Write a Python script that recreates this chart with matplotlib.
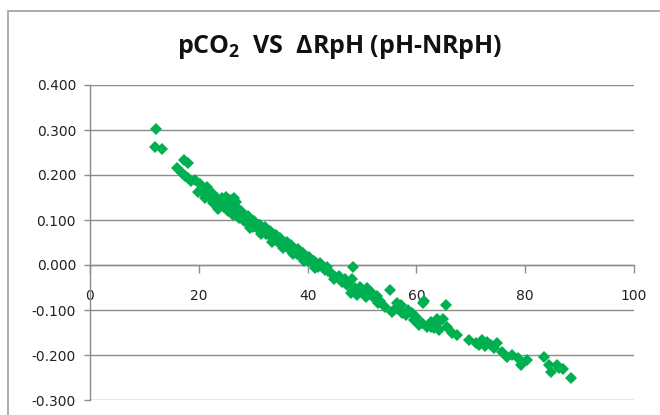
import matplotlib
matplotlib.use('Agg')
import matplotlib.pyplot as plt
from matplotlib.patches import Rectangle

# pCO2 (x) and delta RpH (y)
pco2 = [12.1, 12.0, 13.2,
        17.2, 18.1, 16.0, 16.9, 18.1, 19.3, 20.3, 19.9, 21.5, 22.4, 23.3, 24.5, 25.8, 27.0,
        17.5, 18.6, 20.8, 21.0, 22.0, 23.0, 23.8, 24.2, 25.0, 25.4, 26.0, 26.3, 26.8, 27.3,
        27.6, 28.0, 28.4, 28.8, 29.2, 29.6, 30.0, 30.4, 30.8, 31.2, 31.6, 32.0, 32.4, 32.8,
        33.2, 33.6, 34.0, 34.4, 34.8, 35.2, 35.6, 36.0, 36.4, 36.8, 37.2, 37.6, 38.0, 38.5,
        39.0, 39.5, 40.0, 40.5, 41.0, 41.5, 42.0, 42.6, 43.2, 43.8, 44.4, 45.0,
        26.5, 27.8, 29.0, 30.2, 31.0, 32.2, 33.0, 34.2, 35.0, 36.2, 37.0, 38.2, 39.2, 40.2,
        41.2, 42.3, 43.5, 29.4, 31.4, 33.4, 35.4, 37.4, 39.4, 41.4, 24.6, 25.2, 23.5, 22.6,
        21.2, 25.5, 26.4,
        44.8, 46.3, 48.2, 48.4, 48.8, 49.7, 50.3, 51.6, 52.2, 47.9, 49.1, 53.4, 55.2, 54.3,
        55.5, 57.1, 57.4, 59.2, 59.5, 61.3, 60.5, 62.6, 63.8,
        45.8, 46.8, 47.2, 50.8, 51.0, 52.8, 53.0, 56.0, 56.5, 58.0, 58.5, 60.0,
        61.4, 65.4, 62.6, 63.8, 64.8, 65.7, 62.0, 67.5, 69.7, 70.9, 72.1, 72.7, 73.7, 74.9,
        75.8, 76.7, 78.6, 79.2, 80.4,
        61.0, 63.2, 64.2, 66.5, 71.5, 73.0, 74.2, 77.5,
        83.5, 84.4, 84.7, 85.9, 86.9, 88.4, 86.2]
delta_rph = [0.303, 0.262, 0.257,
             0.233, 0.226, 0.215, 0.204, 0.193, 0.189, 0.181, 0.163, 0.174, 0.159, 0.148, 0.141, 0.133, 0.126,
             0.198, 0.186, 0.170, 0.158, 0.150, 0.140, 0.132, 0.150, 0.152, 0.120, 0.145, 0.112, 0.140, 0.104,
             0.118, 0.112, 0.098, 0.106, 0.092, 0.100, 0.084, 0.094, 0.080, 0.088, 0.074, 0.080, 0.068, 0.074,
             0.062, 0.068, 0.056, 0.062, 0.050, 0.055, 0.044, 0.048, 0.038, 0.042, 0.032, 0.034, 0.024, 0.028,
             0.016, 0.020, 0.008, 0.012, 0.002, 0.004, -0.004, -0.002, -0.010, -0.014, -0.020, -0.026,
             0.128, 0.120, 0.108, 0.098, 0.090, 0.085, 0.076, 0.066, 0.060, 0.052, 0.044, 0.036, 0.026, 0.018,
             0.010, 0.004, -0.004, 0.082, 0.068, 0.052, 0.038, 0.024, 0.008, -0.006, 0.128, 0.138, 0.125, 0.138,
             0.150, 0.145, 0.150,
             -0.030, -0.037, -0.030, -0.004, -0.052, -0.048, -0.063, -0.059, -0.074, -0.063, -0.067, -0.081, -0.056, -0.093,
             -0.104, -0.089, -0.107, -0.107, -0.122, -0.085, -0.133, -0.137, -0.119,
             -0.025, -0.030, -0.045, -0.070, -0.052, -0.068, -0.085, -0.098, -0.085, -0.110, -0.100, -0.115,
             -0.081, -0.089, -0.126, -0.130, -0.119, -0.137, -0.137, -0.156, -0.167, -0.174, -0.167, -0.181, -0.178, -0.174,
             -0.193, -0.204, -0.207, -0.222, -0.211,
             -0.128, -0.140, -0.145, -0.150, -0.178, -0.170, -0.185, -0.200,
             -0.204, -0.222, -0.237, -0.222, -0.230, -0.252, -0.228]

x_ticks = [0, 20, 40, 60, 80, 100]
y_ticks = [-0.3, -0.2, -0.1, 0.0, 0.1, 0.2, 0.3, 0.4]

plt.rcParams['font.family'] = ['DejaVu Sans']
plt.rcParams['mathtext.default'] = 'regular'

grid_col = '#8c8c8c'

fig = plt.figure(figsize=(6.6, 4.15), dpi=100)
ax = fig.add_axes([90/660, 1-400/415, 544/660, 315/415])

# chart area border (cut off right/bottom like the screenshot)
fig.patches.append(Rectangle((8/660, -0.1), 1.2, 1-11/415+0.1, transform=fig.transFigure,
                             fill=False, edgecolor='#a6a6a6', linewidth=1.3))

ax.plot(pco2, delta_rph, linestyle='none', marker='D', markersize=6.6,
        color='#00b050', markeredgewidth=0, zorder=3)

ax.set_xlim(0, 100)
ax.set_ylim(-0.3, 0.4)
ax.set_xticks(x_ticks)
ax.set_yticks(y_ticks)
ax.set_yticklabels(['%.3f' % v for v in y_ticks])
ax.yaxis.grid(True, color=grid_col, linewidth=1.0)
ax.set_axisbelow(True)

ax.spines['left'].set_position(('data', 0))
ax.spines['bottom'].set_position(('data', 0))
ax.spines['right'].set_visible(False)
ax.spines['top'].set_visible(False)
for s in ['left', 'bottom']:
    ax.spines[s].set_color(grid_col)
    ax.spines[s].set_linewidth(1.0)

ax.tick_params(axis='both', direction='out', color=grid_col, width=1.0, labelsize=10, labelcolor='#222222')
ax.tick_params(axis='x', length=6, pad=11)
ax.tick_params(axis='y', length=4, pad=6)

fig.text(340/660, 1-47/415, r'pCO$_2$  VS  ΔRpH (pH-NRpH)', ha='center', va='center',
         fontsize=18, fontweight='bold', family='Open Sans', color='#111111')

fig.savefig('out.png', dpi=100)
